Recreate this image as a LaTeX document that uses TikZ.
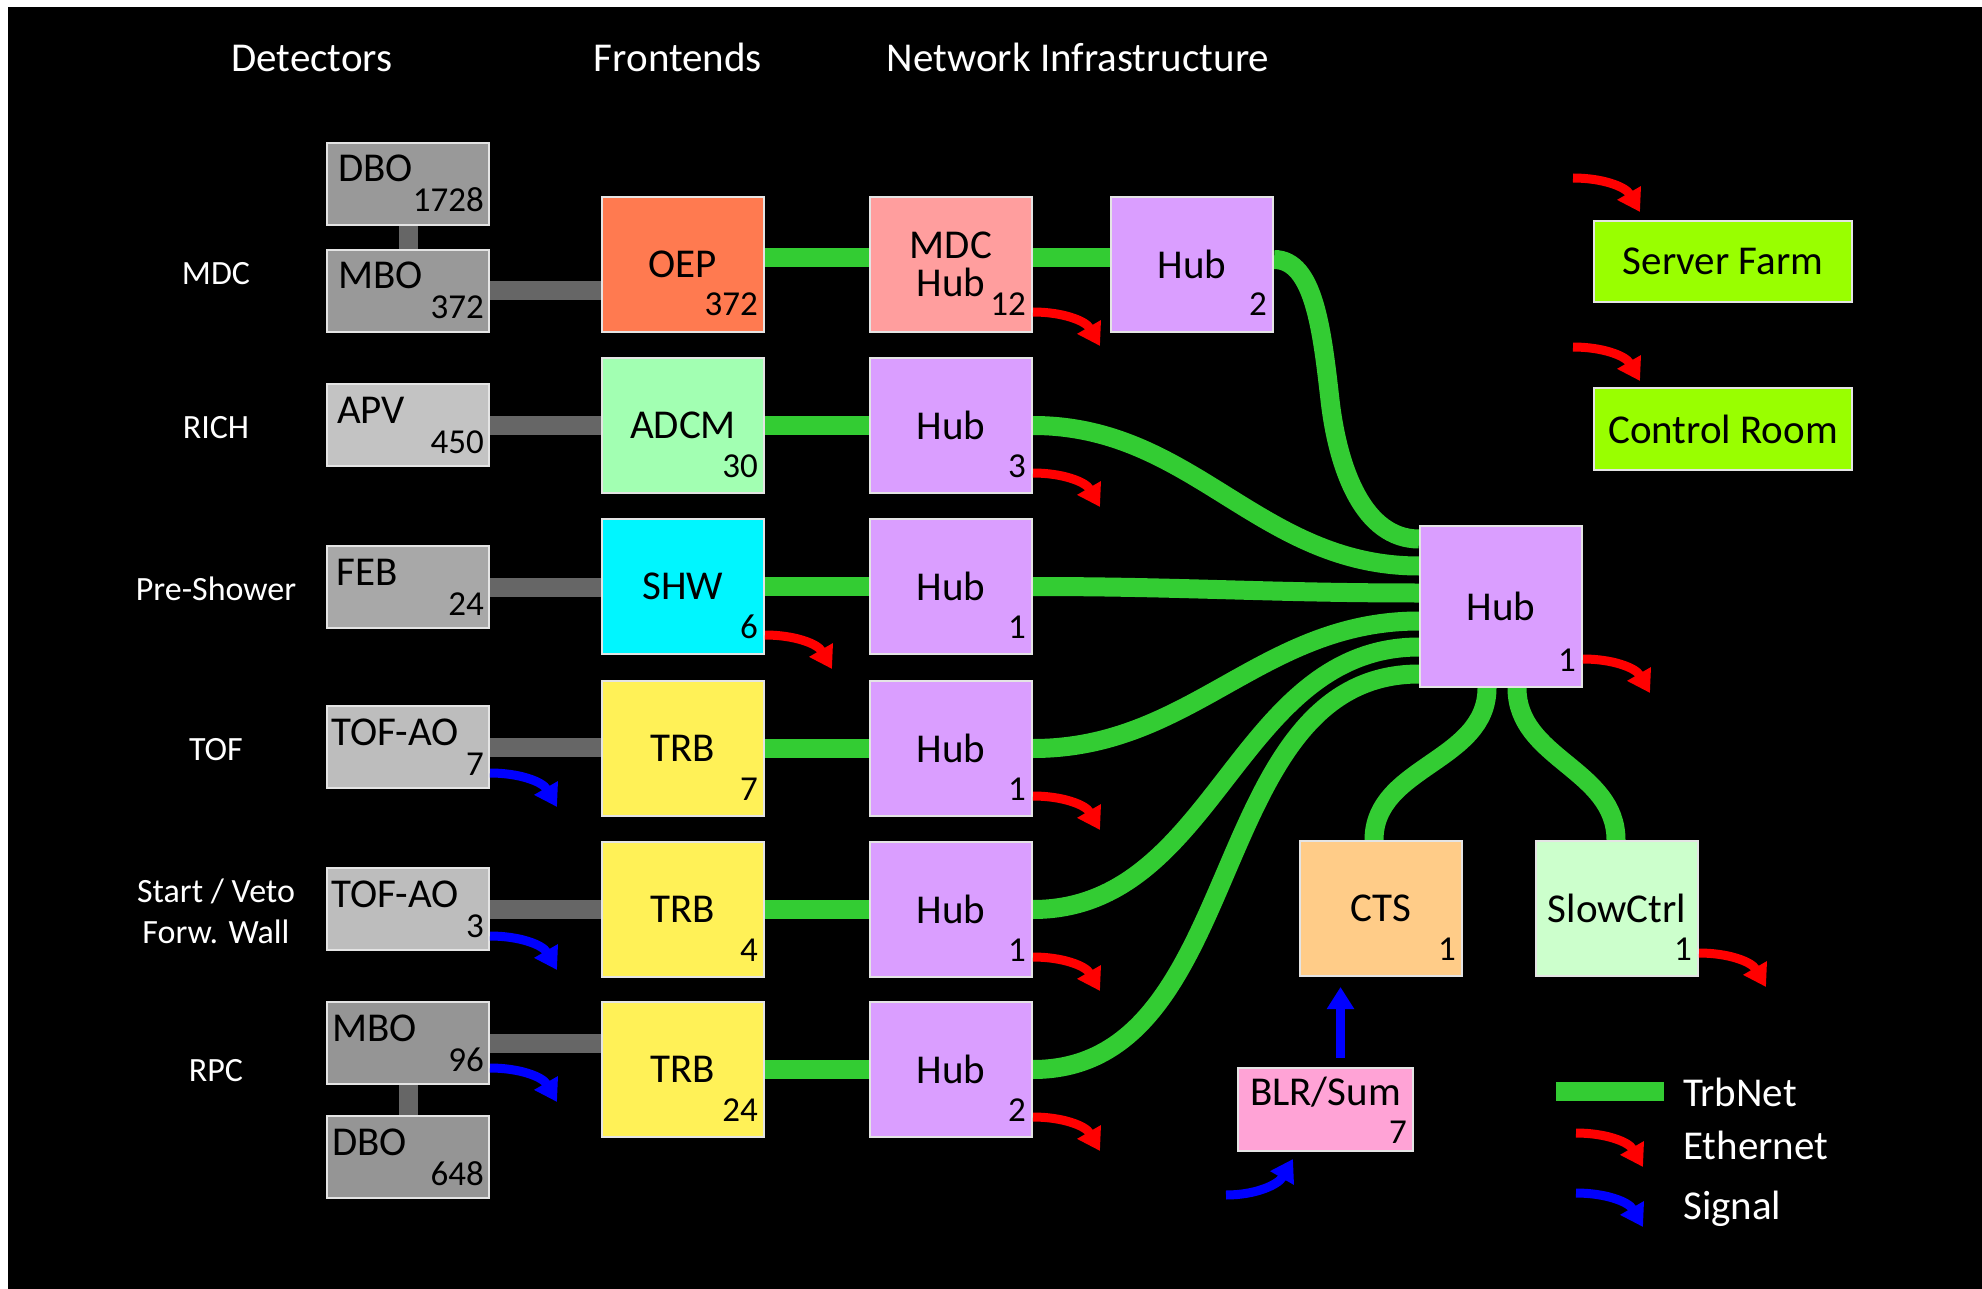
\documentclass[tikz,border=0pt]{standalone}
\usepackage{fontspec}
\setmainfont{Carlito}
\usetikzlibrary{arrows.meta}
\pgfdeclarelayer{canvas}
\pgfdeclarelayer{wires}
\pgfsetlayers{canvas,wires,main}

% palette
\definecolor{edgec}{HTML}{E4E4E4}
\definecolor{wirec}{HTML}{666666}
\definecolor{trbc}{HTML}{33CC33}
\definecolor{ethc}{HTML}{FF0000}
\definecolor{sigc}{HTML}{0000FF}
\definecolor{grayA}{HTML}{999999}
\definecolor{grayB}{HTML}{C3C3C3}
\definecolor{grayC}{HTML}{A8A8A8}
\definecolor{grayD}{HTML}{BDBDBD}
\definecolor{grayE}{HTML}{959595}
\definecolor{oepc}{HTML}{FF7A50}
\definecolor{mdchubc}{HTML}{FF9E9E}
\definecolor{hubc}{HTML}{DA9EFF}
\definecolor{adcmc}{HTML}{A2FFB2}
\definecolor{shwc}{HTML}{00F6FF}
\definecolor{trbboxc}{HTML}{FFF157}
\definecolor{ctsc}{HTML}{FFCC88}
\definecolor{slowc}{HTML}{CCFFCC}
\definecolor{blrc}{HTML}{FFA3D6}
\definecolor{farmc}{HTML}{99FF00}

\newcommand\boxfont{\fontsize{41pt}{38pt}\selectfont}
\newcommand\countfont{\fontsize{35pt}{35pt}\selectfont}
\newcommand\rowfont{\fontsize{34pt}{41pt}\selectfont}

\tikzset{
  blk/.style={draw=edgec, line width=2pt, inner sep=0pt, anchor=north west,
    font=\boxfont, text=black, align=center},
  big/.style={blk, minimum width=162pt, minimum height=135pt},
  det/.style={blk, minimum width=162pt, minimum height=82pt},
  tag/.style={font=\boxfont, text=black, inner sep=0pt},
  num/.style={font=\countfont, text=black, inner sep=0pt, anchor=base east},
  title/.style={font=\boxfont, text=white, inner sep=0pt, anchor=base},
  legendtxt/.style={font=\boxfont, text=white, inner sep=0pt, anchor=base west},
  rowlabel/.style={font=\rowfont, text=white, inner sep=0pt, align=center},
  trbnet/.style={draw=trbc, line width=19pt},
  wire/.style={draw=wirec, line width=19pt},
  eth/.style={draw=ethc, line width=9pt, -{Triangle[length=22pt,width=26pt]}},
  sig/.style={draw=sigc, line width=9pt, -{Triangle[length=22pt,width=26pt]}},
}

% short bent arrow leaving a point to the right and turning down
\newcommand\wave[3]{\draw[#1] #2 to[out=0,in=120] ++(67,34) coordinate (#3);}

% detector board: name, label indent, top, fill, label, count
\newcommand\detector[6]{%
  \node[det, fill=#4] (#1) at (326,#3) {};
  \node[tag, anchor=base west] (#1-t) at ([xshift=#2pt,yshift=-40pt]#1.north west) {#5};
  \node[num] (#1-n) at ([xshift=-6pt,yshift=14pt]#1.south east) {#6};}

% frontend / hub board: name, left, top, fill, label, count
\newcommand\unitbox[6]{%
  \node[big, fill=#4] (#1) at (#2,#3) {#5};
  \node[num] (#1-n) at ([xshift=-7pt,yshift=17pt]#1.south east) {#6};}

\begin{document}
\begin{tikzpicture}[x=1pt,y=-1pt]
\useasboundingbox (0,0) rectangle (1982,1289);
\begin{pgfonlayer}{canvas}
  \fill[white] (0,0) rectangle (1982,1289);
  \fill[black] (8,7) rectangle (1982,1289);
\end{pgfonlayer}

% column titles
\node[title] (t-det) at (312,72) {Detectors};
\node[title] (t-fe) at (678,72) {Frontends};
\node[title] (t-net) at (1078,72) {Network Infrastructure};

% row labels
\node[rowlabel] (r-mdc) at (216,274) {MDC};
\node[rowlabel] (r-rich) at (216,428) {RICH};
\node[rowlabel] (r-pre) at (216,589) {Pre-Shower};
\node[rowlabel] (r-tof) at (216,750) {TOF};
\node[rowlabel] (r-veto) at (216,911) {Start / Veto\\Forw. Wall};
\node[rowlabel] (r-rpc) at (216,1071) {RPC};

% detector boards
\detector{d-dbo1}{12}{142}{grayA}{DBO}{1728}
\detector{d-mbo1}{12}{249}{grayA}{MBO}{372}
\detector{d-apv}{11}{383}{grayB}{APV}{450}
\detector{d-feb}{10}{545}{grayC}{FEB}{24}
\detector{d-tof1}{5}{705}{grayD}{TOF-AO}{7}
\detector{d-tof2}{5}{867}{grayD}{TOF-AO}{3}
\detector{d-mbo2}{6}{1001}{grayE}{MBO}{96}
\detector{d-dbo2}{6}{1115}{grayE}{DBO}{648}

% frontends
\unitbox{f-oep}{601}{196}{oepc}{OEP}{372}
\unitbox{f-adcm}{601}{357}{adcmc}{ADCM}{30}
\unitbox{f-shw}{601}{518}{shwc}{SHW}{6}
\unitbox{f-trb1}{601}{680}{trbboxc}{TRB}{7}
\unitbox{f-trb2}{601}{841}{trbboxc}{TRB}{4}
\unitbox{f-trb3}{601}{1001}{trbboxc}{TRB}{24}

% first hub level
\unitbox{h-mdc}{869}{196}{mdchubc}{MDC\\Hub}{12}
\unitbox{h-rich}{869}{357}{hubc}{Hub}{3}
\unitbox{h-shw}{869}{518}{hubc}{Hub}{1}
\unitbox{h-tof}{869}{680}{hubc}{Hub}{1}
\unitbox{h-veto}{869}{841}{hubc}{Hub}{1}
\unitbox{h-rpc}{869}{1001}{hubc}{Hub}{2}
\unitbox{h-top}{1110}{196}{hubc}{Hub}{2}

% central hub and its neighbours
\node[blk, fill=hubc, minimum width=162pt, minimum height=161pt] (h-main) at (1419,525) {Hub};
\node[num] (h-main-n) at ([xshift=-7pt,yshift=17pt]h-main.south east) {1};
\unitbox{cts}{1299}{840}{ctsc}{CTS}{1}
\unitbox{slow}{1535}{840}{slowc}{SlowCtrl}{1}
\node[blk, fill=blrc, minimum width=175pt, minimum height=83pt] (blr) at (1237,1067) {};
\node[tag, anchor=base] (blr-t) at ([yshift=-38pt]blr.north) {BLR/Sum};
\node[num] (blr-n) at ([xshift=-7pt,yshift=9pt]blr.south east) {7};

\node[blk, fill=farmc, minimum width=258pt, minimum height=81pt] (farm) at (1593,220) {Server Farm};
\node[blk, fill=farmc, minimum width=258pt, minimum height=82pt] (ctrl) at (1593,387) {Control Room};

% cables and TrbNet links
\begin{pgfonlayer}{wires}
  \draw[wire] (d-dbo1.south) -- (d-mbo1.north);
  \draw[wire] (d-mbo1.east) -- (d-mbo1.east -| f-oep.west);
  \draw[wire] (d-apv.east) -- (d-apv.east -| f-adcm.west);
  \draw[wire] (d-feb.east) -- (d-feb.east -| f-shw.west);
  \draw[wire] (d-tof1.east) -- (d-tof1.east -| f-trb1.west);
  \draw[wire] (d-tof2.east) -- (d-tof2.east -| f-trb2.west);
  \draw[wire] (d-mbo2.east) -- (d-mbo2.east -| f-trb3.west);
  \draw[wire] (d-mbo2.south) -- (d-dbo2.north);

  \draw[trbnet] ([yshift=7pt]f-oep.east) -- ([yshift=7pt]h-mdc.west);
  \draw[trbnet] ([yshift=7pt]h-mdc.east) -- ([yshift=7pt]h-top.west);
  \draw[trbnet] (f-adcm.east) -- (h-rich.west);
  \draw[trbnet] (f-shw.east) -- (h-shw.west);
  \draw[trbnet] (f-trb1.east) -- (h-tof.west);
  \draw[trbnet] (f-trb2.east) -- (h-veto.west);
  \draw[trbnet] (f-trb3.east) -- (h-rpc.west);

  \draw[trbnet] ([yshift=5pt]h-top.east) .. controls +(40,0) and +(-8,-70) .. (1330,400)
                .. controls +(8,70) and +(-55,0) .. ([yshift=67.5pt]h-main.west);
  \draw[trbnet] (h-rich.east) to[out=0,in=180] ([yshift=40.5pt]h-main.west);
  \draw[trbnet] (h-shw.east) to[out=0,in=180] ([yshift=13.5pt]h-main.west);
  \draw[trbnet] (h-tof.east) to[out=0,in=180] ([yshift=-14.5pt]h-main.west);
  \draw[trbnet] (h-veto.east) to[out=0,in=180] ([yshift=-40.5pt]h-main.west);
  \draw[trbnet] (h-rpc.east) to[out=0,in=180] ([yshift=-67.5pt]h-main.west);
  \draw[trbnet] ([xshift=-14pt]h-main.south) to[out=-90,in=90] ([xshift=-7pt]cts.north);
  \draw[trbnet] ([xshift=16pt]h-main.south) to[out=-90,in=90] ([xshift=-1pt]slow.north);
\end{pgfonlayer}

% Ethernet outputs
\wave{eth}{([yshift=21pt]h-mdc.south east)}{eth-mdc}
\wave{eth}{([yshift=21pt]h-rich.south east)}{eth-rich}
\wave{eth}{([yshift=20pt]f-shw.south east)}{eth-shw}
\wave{eth}{([yshift=21pt]h-tof.south east)}{eth-tof}
\wave{eth}{([yshift=21pt]h-veto.south east)}{eth-veto}
\wave{eth}{([yshift=21pt]h-rpc.south east)}{eth-rpc}
\wave{eth}{([yshift=29pt]h-main.south east)}{eth-main}
\wave{eth}{([yshift=24pt]slow.south east)}{eth-slow}
\wave{eth}{([xshift=-20pt,yshift=42pt]farm.north west)}{eth-farm}
\wave{eth}{([xshift=-20pt,yshift=40pt]ctrl.north west)}{eth-ctrl}

% analogue signals
\wave{sig}{([yshift=16pt]d-tof1.south east)}{sig-tof1}
\wave{sig}{([yshift=15pt]d-tof2.south east)}{sig-tof2}
\wave{sig}{([yshift=17pt]d-mbo2.south east)}{sig-mbo2}
\coordinate (blr-out) at ([xshift=15pt]blr.north);
\draw[sig, shorten <=9pt, shorten >=10pt] (blr-out) -- (blr-out |- cts.south);
\draw[sig] ([shift={(-11pt,-43pt)}]blr.south west) coordinate (blr-src)
  to[out=0,in=-120] ([shift={(56pt,-7pt)}]blr.south west);

% legend
\node[legendtxt] (lg-trb) at (1683,1106) {TrbNet};
\node[legendtxt] (lg-eth) at (1683,1159) {Ethernet};
\node[legendtxt] (lg-sig) at (1683,1219) {Signal};
\draw[trbnet] ([xshift=-127pt]lg-trb.west) -- ([xshift=-19pt]lg-trb.west);
\wave{eth}{([xshift=-107pt,yshift=26pt]lg-eth.base west)}{lg-eth-tip}
\wave{sig}{([xshift=-107pt,yshift=26pt]lg-sig.base west)}{lg-sig-tip}
\end{tikzpicture}
\end{document}
